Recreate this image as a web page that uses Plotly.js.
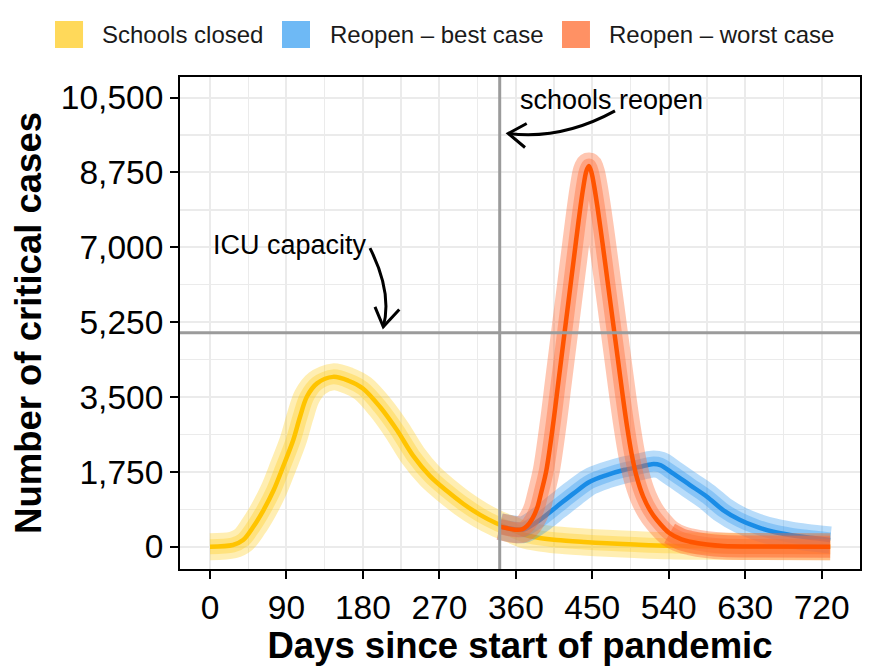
<!DOCTYPE html>
<html>
<head>
<meta charset="utf-8">
<script src="https://cdn.plot.ly/plotly-3.0.1.min.js"></script>
<style>html,body{margin:0;padding:0;background:#fff;}#chart{width:872px;height:666px;}</style>
</head>
<body>
<div id="chart"></div>
<script>
// ---- data ----
const seriesNames = ["Schools closed", "Reopen \u2013 best case", "Reopen \u2013 worst case"];

const daysClosed  = [0, 27, 39, 51, 63, 75, 86, 98, 106, 114, 126, 145, 163, 180, 200, 220, 239, 259, 279, 298, 318, 337, 355, 369, 388, 408, 440, 467, 500, 541, 580, 620, 730];
const casesClosed = [0, 40, 156, 467, 857, 1325, 1869, 2493, 3037, 3505, 3818, 3970, 3880, 3700, 3271, 2727, 2130, 1650, 1300, 1005, 745, 547, 400, 285, 205, 156, 110, 79, 50, 20, 8, 3, 0];

const daysBest  = [341, 355, 369, 388, 408, 428, 447, 467, 487, 506, 520, 530, 545, 565, 585, 604, 624, 643, 663, 683, 702, 730];
const casesBest = [470, 420, 400, 624, 935, 1247, 1519, 1675, 1792, 1869, 1930, 1909, 1715, 1441, 1168, 857, 624, 467, 350, 273, 220, 156];

const daysWorst  = [341, 350, 361, 368, 373, 379, 385, 390, 396, 404, 410, 416, 422, 428, 434, 439, 443, 446, 449, 452, 456, 462, 468, 474, 480, 486, 491, 496, 502, 510, 518, 526, 541, 555, 565, 585, 604, 650, 730];
const casesWorst = [470, 430, 395, 410, 480, 640, 900, 1280, 1792, 2883, 3840, 4790, 5740, 6690, 7640, 8350, 8780, 8900, 8750, 8450, 7950, 7100, 6200, 5300, 4400, 3500, 2800, 2200, 1650, 1168, 850, 624, 313, 170, 117, 50, 16, 3, 0];

const xTickVals = [0, 90, 180, 270, 360, 450, 540, 630, 720];
const yTickVals = [0, 1750, 3500, 5250, 7000, 8750, 10500];
const yTickText = ["0", "1,750", "3,500", "5,250", "7,000", "8,750", "10,500"];

const REOPEN_DAY = 341;
const ICU_CAPACITY = 5000;

// ---- styles ----
const mainColors = ["#FFC400", "#1A8CE6", "#FF5400"];
const bandColors = ["rgba(255,204,20,0.33)", "rgba(40,150,240,0.33)", "rgba(255,105,50,0.38)"];
const keyColors  = ["#FFD95A", "#6EB9F5", "#FF9164"];

const FONT = "Liberation Sans, Arial, Helvetica, sans-serif";

const seriesX = [daysClosed, daysBest, daysWorst];
const seriesY = [casesClosed, casesBest, casesWorst];

const traces = [];
for (let i = 0; i < 3; i++) {
  traces.push({x: seriesX[i], y: seriesY[i], type: "scatter", mode: "lines",
    line: {color: bandColors[i], width: 27, shape: "spline", smoothing: 0.9},
    hoverinfo: "skip", showlegend: false});
  traces.push({x: seriesX[i], y: seriesY[i], type: "scatter", mode: "lines",
    line: {color: bandColors[i], width: 15, shape: "spline", smoothing: 0.9},
    hoverinfo: "skip", showlegend: false});
  if (i === 2) {
    // dense overlap of simulations in the flat tail of the worst case
    const tailStart = daysWorst.indexOf(541);
    traces.push({x: daysWorst.slice(tailStart), y: casesWorst.slice(tailStart), type: "scatter", mode: "lines",
      line: {color: "rgba(255,105,50,0.55)", width: 22, shape: "spline", smoothing: 0.9},
      hoverinfo: "skip", showlegend: false});
  }
  traces.push({x: seriesX[i], y: seriesY[i], type: "scatter", mode: "lines",
    line: {color: mainColors[i], width: 4.5, shape: "spline", smoothing: 0.9},
    name: seriesNames[i], showlegend: false});
}

const shapes = [
  {type: "line", xref: "x", yref: "paper", x0: REOPEN_DAY, x1: REOPEN_DAY, y0: 0, y1: 1,
   line: {color: "#9B9B9B", width: 3}, layer: "above"},
  {type: "line", xref: "paper", yref: "y", x0: 0, x1: 1, y0: ICU_CAPACITY, y1: ICU_CAPACITY,
   line: {color: "#9B9B9B", width: 3}, layer: "above"},
  // curved arrow: ICU capacity
  {type: "path", xref: "x", yref: "y", path: "M 188.3 6979 Q 214.8 5939 204 5140",
   line: {color: "#000", width: 3}, layer: "above"},
  {type: "path", xref: "x", yref: "y", path: "M 194.2 5607 L 204 5140 L 222.8 5547",
   line: {color: "#000", width: 3}, layer: "above"},
  // curved arrow: schools reopen
  {type: "path", xref: "x", yref: "y", path: "M 476.7 10187 Q 414 9502 351.1 9659",
   line: {color: "#000", width: 3}, layer: "above"},
  {type: "path", xref: "x", yref: "y", path: "M 372.8 9893 L 351.1 9659 L 370.8 9332",
   line: {color: "#000", width: 3}, layer: "above"}
];

// manual legend (square keys)
const keyX = [[-0.1838, -0.1426], [0.1500, 0.1912], [0.5618, 0.6029]];
const textX = [-0.1176, 0.2176, 0.6279];
const annotations = [];
for (let i = 0; i < 3; i++) {
  shapes.push({type: "rect", xref: "paper", yref: "paper", x0: keyX[i][0], x1: keyX[i][1],
    y0: 1.0589, y1: 1.1138, fillcolor: keyColors[i], line: {width: 0}});
  annotations.push({xref: "paper", yref: "paper", x: textX[i], y: 1.0854, xanchor: "left", yanchor: "middle",
    text: seriesNames[i], showarrow: false, font: {family: FONT, size: 24, color: "#1a1a1a"}});
}
annotations.push({xref: "x", yref: "y", x: 1, y: 7049, xanchor: "left", yanchor: "middle",
  text: "ICU capacity", showarrow: false, font: {family: FONT, size: 27, color: "#000"}});
annotations.push({xref: "x", yref: "y", x: 473, y: 10437, xanchor: "center", yanchor: "middle",
  text: "schools reopen", showarrow: false, font: {family: FONT, size: 27, color: "#000"}});

const axisCommon = {
  showline: true, mirror: true, linecolor: "#000", linewidth: 2,
  ticks: "outside", ticklen: 8, tickwidth: 2, tickcolor: "#000",
  showgrid: true, gridcolor: "#EBEBEB", gridwidth: 2, zeroline: false,
  tickfont: {family: FONT, size: 33.5, color: "#000"}
};

const layout = {
  width: 872, height: 666,
  margin: {l: 180, r: 12, t: 77, b: 97},
  paper_bgcolor: "#fff", plot_bgcolor: "#fff",
  showlegend: false,
  xaxis: Object.assign({}, axisCommon, {
    range: [-35.3, 765.1], tickmode: "array", tickvals: xTickVals,
    minor: {tickmode: "linear", tick0: 45, dtick: 90, showgrid: true, gridcolor: "#EBEBEB", gridwidth: 1.4, ticks: ""},
    title: {text: "Days since start of pandemic", standoff: 2,
      font: {family: FONT, size: 36.5, color: "#000", weight: "bold"}}
  }),
  yaxis: Object.assign({}, axisCommon, {
    range: [-521, 10980], tickmode: "array", tickvals: yTickVals, ticktext: yTickText,
    minor: {tickmode: "linear", tick0: 875, dtick: 1750, showgrid: true, gridcolor: "#EBEBEB", gridwidth: 1.4, ticks: ""},
    title: {text: "Number of critical cases", standoff: 8,
      font: {family: FONT, size: 36.5, color: "#000", weight: "bold"}}
  }),
  shapes: shapes,
  annotations: annotations
};

Plotly.newPlot("chart", traces, layout, {displayModeBar: false, staticPlot: true});
</script>
</body>
</html>
